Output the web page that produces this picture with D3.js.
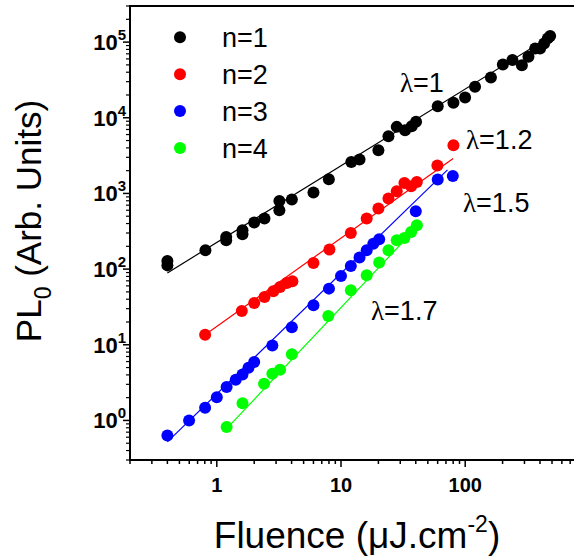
<!DOCTYPE html>
<html><head><meta charset="utf-8">
<script src="https://cdn.jsdelivr.net/npm/d3@7"></script>
<style>body{margin:0;background:#fff}svg{display:block}</style>
</head><body>
<svg id="c" width="574" height="558"></svg>
<script>
const seriesNames = ["n=1","n=2","n=3","n=4"];
const seriesColors = ["#000000","#ff0000","#0000ff","#00ff00"];
const n1X = [0.4,0.4,0.81,1.19,1.19,1.61,1.61,2.0,2.42,3.19,3.19,4.02,6.0,7.98,12.1,14.1,20.0,24.1,28.1,32.8,37.1,40.2,60.1,80.4,99.8,120,161,201,240,286,323,366,401,432,462,483];
const n1Y = [128,112,177,266,240,326,289,412,466,796,600,830,1028,1541,2612,2807,3728,5710,7580,6860,7740,8830,14230,15740,18550,25640,34100,50700,57800,49600,63900,82600,82600,96100,112000,120000];
const n2X = [0.805,1.59,2.0,2.42,2.85,3.23,3.66,4.06,6.0,8.07,12.0,16.1,20.0,24.1,28.1,32.4,36.7,40.8,59.7,80.4];
const n2Y = [13.6,27.9,35.6,42.8,50.9,58,65.5,69,120,181,300,466,631,856,1069,1377,1245,1420,2340,4340];
const n3X = [0.4,0.598,0.805,1.0,1.2,1.42,1.61,1.80,2.0,2.8,4.02,6.0,8.0,10.0,12.0,14.1,16.1,18.2,20.3,40.0,60.1,79.5];
const n3Y = [0.633,1.0,1.47,2.03,2.76,3.45,4.06,4.98,5.9,9.8,17.1,33.2,55.2,81,110,142,177,217,248,582,1525,1706];
const n4X = [1.2,1.61,2.4,2.8,3.23,4.02,7.9,12.0,16.1,20.3,24.1,28.1,32.4,36.7,40.8];
const n4Y = [0.816,1.69,3.06,4.14,4.68,7.47,24,52.5,82.8,122,177,240,258,310,380];
// fitted power-law lines: [x start, x end], [y start, y end]
const fitX = [[0.4,490],[0.8,80],[0.4,72],[1.2,41]];
const fitY = [[89,120000],[13.5,2900],[0.52,2050],[0.78,360]];
const lambdaLabels = ["1","1.2","1.5","1.7"];
const lambdaPos = [[400,91.7],[466,149],[463,212],[371,320]];
const xTickLabels = ["1","10","100"];
const yTickExps = [0,1,2,3,4,5];

const svg = d3.select("#c");
const L=130, R=574.6, T=6, B=460;
const x = d3.scaleLog().domain([0.2,760]).range([L,R]);
const y = d3.scaleLog().domain([0.3,3e5]).range([B,T]);

const data = [[n1X,n1Y],[n2X,n2Y],[n3X,n3Y],[n4X,n4Y]];

// fit lines
data.forEach((d,i)=>{
  svg.append("line").attr("x1",x(fitX[i][0])).attr("y1",y(fitY[i][0]))
    .attr("x2",x(fitX[i][1])).attr("y2",y(fitY[i][1]))
    .attr("stroke",seriesColors[i]).attr("stroke-width",1.2);
});
// points
data.forEach((d,i)=>{
  svg.append("g").selectAll("circle").data(d[0].map((v,k)=>[v,d[1][k]])).join("circle")
    .attr("cx",p=>x(p[0])).attr("cy",p=>y(p[1])).attr("r",6).attr("fill",seriesColors[i]);
});

// x axis ticks
const xMinor=[], xMajor=[1,10,100];
[0.1,1,10,100].forEach(dec=>{for(let k=2;k<=9;k++){const v=dec*k; if(v>=0.2&&v<=760) xMinor.push(v);}});
const gx = svg.append("g");
gx.selectAll("line.mi").data(xMinor).join("line").attr("x1",d=>x(d)).attr("x2",d=>x(d))
  .attr("y1",B).attr("y2",B+4).attr("stroke","#000").attr("stroke-width",1.5);
gx.selectAll("line.ma").data(xMajor).join("line").attr("x1",d=>x(d)).attr("x2",d=>x(d))
  .attr("y1",B).attr("y2",B+7).attr("stroke","#000").attr("stroke-width",1.5);
gx.selectAll("text").data(xMajor).join("text").attr("x",d=>x(d)).attr("y",491.5)
  .attr("text-anchor","middle").attr("font-family","Liberation Sans, Arial, sans-serif")
  .attr("font-weight","bold").attr("font-size",20).text((d,i)=>xTickLabels[i]);

// y axis ticks
const yMinor=[];
[0.1,1,10,100,1000,10000,100000].forEach(dec=>{for(let k=2;k<=9;k++){const v=dec*k; if(v>=0.3&&v<=3e5) yMinor.push(v);}});
const yMajor = yTickExps.map(e=>Math.pow(10,e));
const gy = svg.append("g");
gy.selectAll("line.mi").data(yMinor).join("line").attr("y1",d=>y(d)).attr("y2",d=>y(d))
  .attr("x1",L).attr("x2",L-4).attr("stroke","#000").attr("stroke-width",1.2);
gy.selectAll("line.ma").data(yMajor).join("line").attr("y1",d=>y(d)).attr("y2",d=>y(d))
  .attr("x1",L).attr("x2",L-7).attr("stroke","#000").attr("stroke-width",1.5);
const yt = gy.selectAll("text").data(yTickExps).join("text").attr("x",126).attr("y",d=>y(Math.pow(10,d))+8)
  .attr("text-anchor","end").attr("font-family","Liberation Sans, Arial, sans-serif")
  .attr("font-weight","bold").attr("font-size",22);
yt.append("tspan").text("10");
yt.append("tspan").attr("dy",-10).attr("font-size",15).text(d=>d);

// frame
svg.append("line").attr("x1",L).attr("x2",L).attr("y1",T-1).attr("y2",B+1).attr("stroke","#000").attr("stroke-width",2);
svg.append("line").attr("x1",L-1).attr("x2",574).attr("y1",B).attr("y2",B).attr("stroke","#000").attr("stroke-width",2);
svg.append("line").attr("x1",L-1).attr("x2",574).attr("y1",T).attr("y2",T).attr("stroke","#000").attr("stroke-width",2);

// legend
seriesNames.forEach((n,i)=>{
  const ly = 37.3 + i*36.9;
  svg.append("circle").attr("cx",180).attr("cy",ly).attr("r",6).attr("fill",seriesColors[i]);
  svg.append("text").attr("x",222).attr("y",ly+10).attr("font-family","Liberation Sans, Arial, sans-serif")
    .attr("font-size",27).text(n);
});

// lambda labels
lambdaLabels.forEach((l,i)=>{
  const t = svg.append("text").attr("x",lambdaPos[i][0]).attr("y",lambdaPos[i][1])
    .attr("font-family","Liberation Sans, Arial, sans-serif").attr("font-size",27);
  t.append("tspan").attr("font-family","Liberation Serif, Times New Roman, serif").text("λ");
  t.append("tspan").text("="+l);
});

// axis titles
const xt = svg.append("text").attr("x",357).attr("y",548).attr("text-anchor","middle")
  .attr("font-family","Liberation Sans, Arial, sans-serif").attr("font-size",37);
xt.append("tspan").text("Fluence (μJ.cm");
xt.append("tspan").attr("dy",-16).attr("font-size",23).text("-2");
xt.append("tspan").attr("dy",16).text(")");

const ytl = svg.append("text").attr("transform","translate(41,221) rotate(-90)").attr("text-anchor","middle")
  .attr("font-family","Liberation Sans, Arial, sans-serif").attr("font-size",35);
ytl.append("tspan").text("PL");
ytl.append("tspan").attr("dy",10).attr("font-size",23).text("0");
ytl.append("tspan").attr("dy",-10).text(" (Arb. Units)");
</script>
</body></html>
